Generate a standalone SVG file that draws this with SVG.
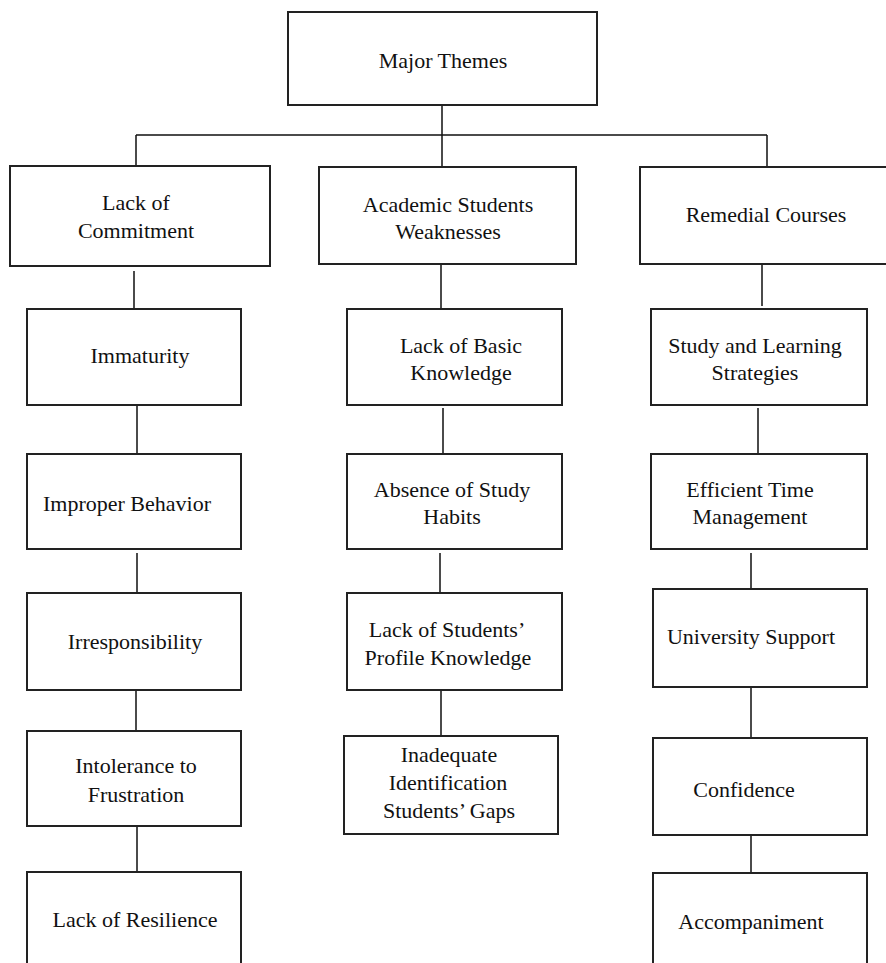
<svg xmlns="http://www.w3.org/2000/svg" width="886" height="963" viewBox="0 0 886 963">
<style>
.b{fill:#fff;stroke:#222;stroke-width:2}
.c{fill:none;stroke:#111;stroke-width:1.5}
text{font-family:"Liberation Serif","Times New Roman",serif;font-size:22px;fill:#111;text-anchor:middle}
</style>
<rect width="886" height="963" fill="#fff"/>
<g id="connectors">
<path class="c" d="M442,105V167M136,135H767M136,135V166M767,135V167"/>
<path class="c" d="M134,271V309M137,405V454M137,553V593M136,690V731M137,826V872"/>
<path class="c" d="M441,264V309M443,408V454M440,553V593M441,690V736"/>
<path class="c" d="M762,260V306M758,408V454M751,553V589M751,687V738M751,835V873"/>
</g>
<g id="major"><rect class="b" x="288" y="12" width="309" height="93"/><text x="443" y="68">Major Themes</text></g>
<g id="commitment"><rect class="b" x="10" y="166" width="260" height="100"/><text x="136" y="210">Lack of</text><text x="136" y="238">Commitment</text></g>
<g id="academic"><rect class="b" x="319" y="167" width="257" height="97"/><text x="448" y="212">Academic Students</text><text x="448" y="239">Weaknesses</text></g>
<g id="remedial"><rect class="b" x="640" y="167" width="250" height="97"/><text x="766" y="222">Remedial Courses</text></g>
<g id="immaturity"><rect class="b" x="27" y="309" width="214" height="96"/><text x="140" y="363">Immaturity</text></g>
<g id="basic"><rect class="b" x="347" y="309" width="215" height="96"/><text x="461" y="353">Lack of Basic</text><text x="461" y="380">Knowledge</text></g>
<g id="study"><rect class="b" x="651" y="309" width="216" height="96"/><text x="755" y="353">Study and Learning</text><text x="755" y="380">Strategies</text></g>
<g id="improper"><rect class="b" x="27" y="454" width="214" height="95"/><text x="127" y="511">Improper Behavior</text></g>
<g id="absence"><rect class="b" x="347" y="454" width="215" height="95"/><text x="452" y="497">Absence of Study</text><text x="452" y="524">Habits</text></g>
<g id="efficient"><rect class="b" x="651" y="454" width="216" height="95"/><text x="750" y="497">Efficient Time</text><text x="750" y="524">Management</text></g>
<g id="irresponsibility"><rect class="b" x="27" y="593" width="214" height="97"/><text x="135" y="649">Irresponsibility</text></g>
<g id="profile"><rect class="b" x="347" y="593" width="215" height="97"/><text x="447" y="637">Lack of Students’</text><text x="448" y="665">Profile Knowledge</text></g>
<g id="university"><rect class="b" x="653" y="589" width="214" height="98"/><text x="751" y="644">University Support</text></g>
<g id="intolerance"><rect class="b" x="27" y="731" width="214" height="95"/><text x="136" y="773">Intolerance to</text><text x="136" y="802">Frustration</text></g>
<g id="inadequate"><rect class="b" x="344" y="736" width="214" height="98"/><text x="449" y="762">Inadequate</text><text x="448" y="790">Identification</text><text x="449" y="818">Students’ Gaps</text></g>
<g id="confidence"><rect class="b" x="653" y="738" width="214" height="97"/><text x="744" y="797">Confidence</text></g>
<g id="resilience"><rect class="b" x="27" y="872" width="214" height="100"/><text x="135" y="927">Lack of Resilience</text></g>
<g id="accompaniment"><rect class="b" x="653" y="873" width="214" height="100"/><text x="751" y="929">Accompaniment</text></g>
</svg>
